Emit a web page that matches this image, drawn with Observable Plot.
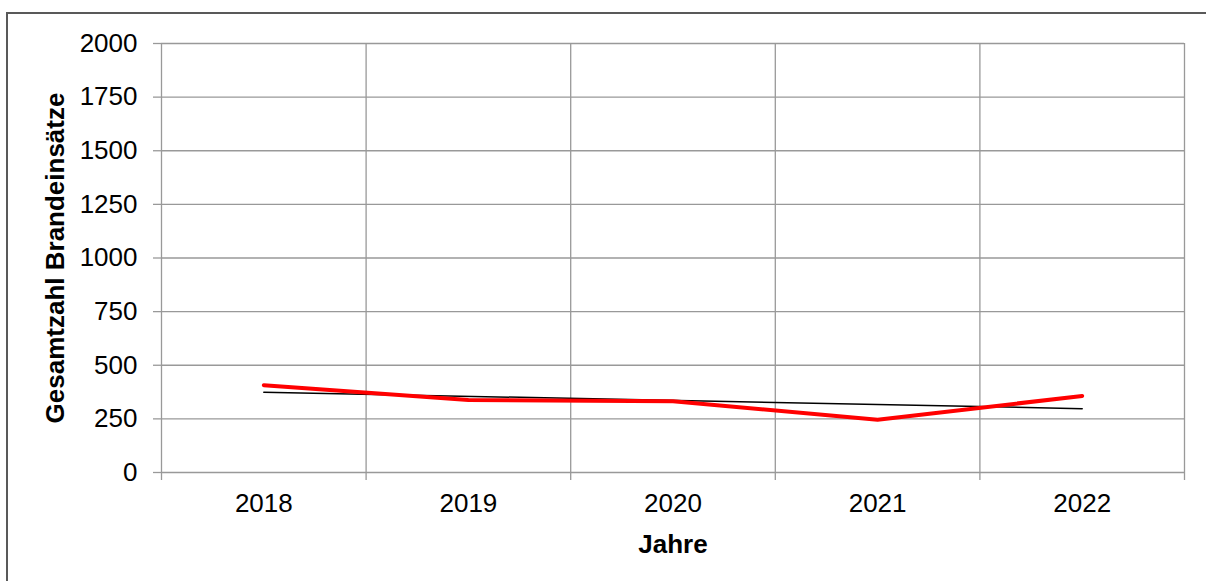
<!DOCTYPE html>
<html>
<head>
<meta charset="utf-8">
<script src="https://cdn.jsdelivr.net/npm/d3@7"></script>
<script src="https://cdn.jsdelivr.net/npm/@observablehq/plot@0.6"></script>
<style>
  html, body { margin: 0; padding: 0; background: #fff; overflow: hidden; }
  #wrap { position: relative; width: 1206px; height: 581px; overflow: hidden; }
  #border { position: absolute; left: 6px; top: 12px; width: 1300px; height: 700px; border: 2px solid #595959; box-sizing: border-box; pointer-events: none; }
  #chart { position: absolute; left: 0; top: 0; }
</style>
</head>
<body>
<div id="wrap"><div id="chart"></div><div id="border"></div></div>
<script>
// Data
const years = [2018, 2019, 2020, 2021, 2022];
const brandeinsaetze = [407, 338, 332, 246, 357];
const yTicks = [0, 250, 500, 750, 1000, 1250, 1500, 1750, 2000];
const xTitle = "Jahre";
const yTitle = "Gesamtzahl Brandeinsätze";

const data = years.map((j, i) => ({jahr: j, wert: brandeinsaetze[i]}));
// category band boundaries (half-way between years)
const bounds = [years[0] - 0.5, ...years.map(y => y + 0.5)];

const font = "'Liberation Sans', Arial, sans-serif";
const fs = 26;

const chart = Plot.plot({
  width: 1206,
  height: 581,
  marginLeft: 161,
  marginRight: 22,
  marginTop: 43,
  marginBottom: 109,
  style: {fontFamily: font, fontSize: fs + "px", color: "black", background: "transparent"},
  x: {type: "linear", domain: [bounds[0], bounds[bounds.length - 1]]},
  y: {domain: [0, 2000]},
  marks: [
    Plot.ruleY(yTicks, {stroke: "#999", strokeWidth: 1.3}),
    Plot.ruleX(bounds, {stroke: "#999", strokeWidth: 1.3}),
    Plot.axisY({ticks: yTicks, tickSize: 8, tickPadding: 16, stroke: "#999", strokeWidth: 1.3, fill: "black", fontSize: fs, label: null, tickFormat: d => String(d)}),
    Plot.axisX({ticks: bounds, tickSize: 8, stroke: "#999", strokeWidth: 1.3, tickFormat: () => "", label: null}),
    Plot.axisX({ticks: years, tickSize: 0, tickPadding: 21, fill: "black", fontSize: fs, label: null, tickFormat: d => String(d)}),
    Plot.linearRegressionY(data, {x: "jahr", y: "wert", ci: 0, stroke: "black", strokeWidth: 1.5}),
    Plot.line(data, {x: "jahr", y: "wert", stroke: "#ff0000", strokeWidth: 4, strokeLinecap: "round", strokeLinejoin: "round"}),
    Plot.text([xTitle], {frameAnchor: "bottom", lineAnchor: "bottom", dy: 80, fontWeight: "bold", fontSize: fs, fill: "black"}),
    Plot.text([yTitle], {frameAnchor: "left", textAnchor: "middle", lineAnchor: "bottom", rotate: -90, dx: -98, fontWeight: "bold", fontSize: fs, fill: "black"})
  ]
});
document.getElementById("chart").appendChild(chart);
</script>
</body>
</html>
